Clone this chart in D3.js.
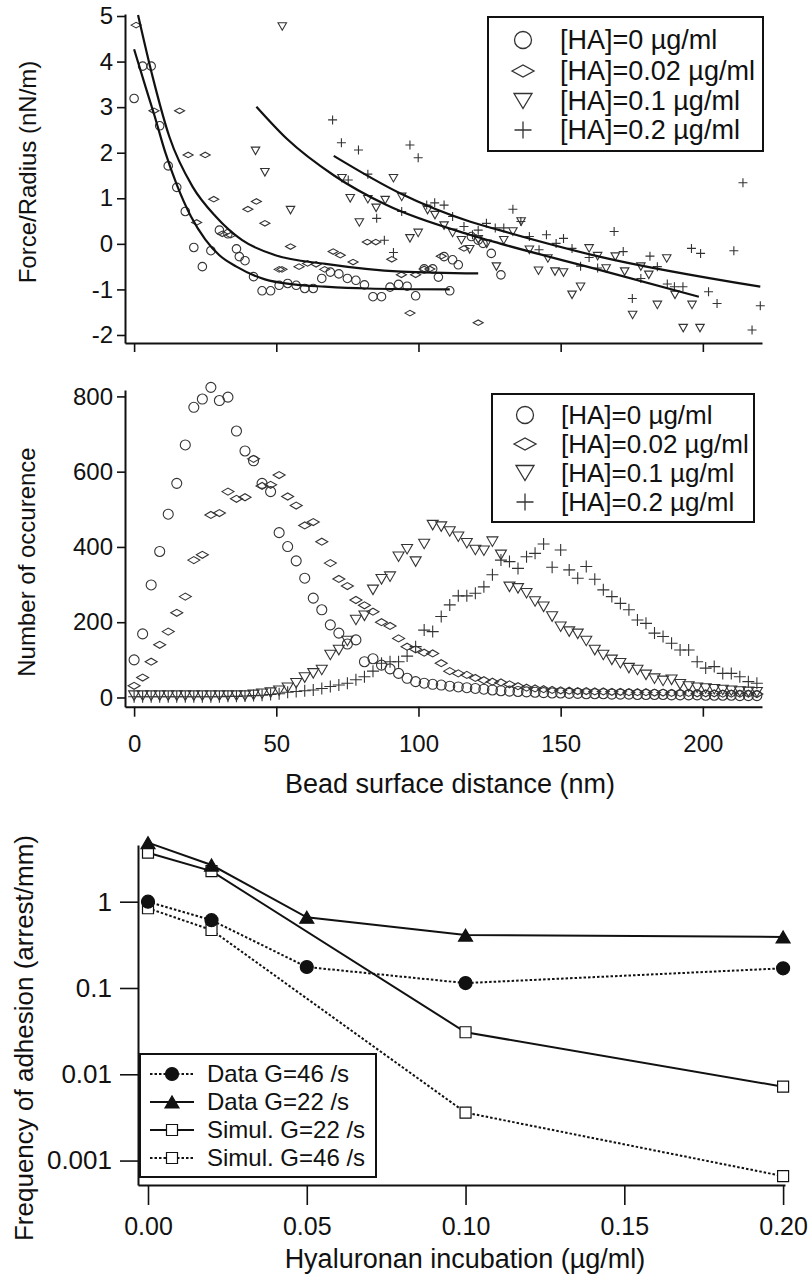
<!DOCTYPE html>
<html>
<head>
<meta charset="utf-8">
<script src="https://cdn.jsdelivr.net/npm/d3@7"></script>
<style>
  body { margin: 0; background: #fff; }
  text { font-family: "Liberation Sans", Arial, sans-serif; fill: #111; }
</style>
</head>
<body>
<svg id="chart" width="811" height="1282"></svg>
<script>
// ---------- data: top panel, force/radius vs distance ----------
const forceHA0 = [[0,3.19],[3,3.9],[6,3.9],[9,2.59],[12,1.71],[15,1.24],[18,0.71],[21,-0.08],[24,-0.5],[27,-0.15],[30,0.3],[33,0.22],[36,-0.11],[37,-0.28],[39,-0.37],[42,-0.72],[45,-1.03],[48,-1.03],[51,-0.91],[54,-0.87],[57,-0.91],[60,-0.98],[63,-0.98],[66,-0.76],[69,-0.62],[72,-0.66],[75,-0.76],[78,-0.8],[81,-0.9],[84,-1.16],[87,-1.16],[90,-0.95],[93,-0.89],[96,-0.93],[99,-1.14],[102,-0.55],[105,-0.55],[107,-0.73],[109,-0.28],[111,-1.03],[112,-0.35],[114,-0.46],[118.6,0.16],[121,0.08],[122.7,0.01],[125.6,-0.21],[129,-0.68]];
const forceHA002 = [[0.7,4.8],[7,2.92],[16,2.92],[19,1.95],[22,0.47],[25,1.95],[28,0.98],[31,0.22],[34,0.19],[40,0.76],[43,0.93],[46,0.45],[51,-0.56],[52,-0.56],[55,-0.06],[58,-0.5],[61,-0.43],[64,-0.45],[67,-0.56],[70,-0.17],[72.5,-0.25],[77,-0.4],[82,0.04],[85,0.04],[90.6,-0.34],[94,-0.68],[97,-1.52],[99,-0.68],[102,-0.55],[104,-0.55],[108,-0.27],[116,-0.1],[121,-1.73]];
const forceHA01 = [[42.7,2.04],[46,1.57],[52.1,4.77],[55,0.74],[73.1,1.44],[76,1.0],[79.2,0.47],[82.2,0.98],[85.1,0.79],[88.3,0.96],[91.2,1.44],[94.1,1.03],[97,0.12],[99.9,0.24],[103.2,0.74],[105.8,0.63],[109,0.4],[112,0.24],[115.1,0.08],[118,-0.12],[121,0.1],[124,0.0],[127.4,-0.5],[130,0.08],[133.2,0.27],[136.1,0.49],[139,-0.13],[142.2,-0.59],[145.5,-0.32],[148,-0.61],[151,-0.63],[154,-1.12],[157,-0.94],[160,-0.1],[163,-0.27],[166,-0.54],[169.2,-0.28],[172.5,-0.61],[175.3,-1.56],[178.2,-0.5],[181,-0.68],[184,-1.34],[187.3,-0.32],[190.2,-1.12],[193.1,-1.85],[196.2,-1.34],[199,-1.85]];
const forceHA02 = [[69.8,2.72],[72.9,2.22],[75.3,1.4],[78.9,2.06],[82.2,1.53],[85.3,0.56],[88,0.08],[91.2,-0.19],[94.1,0.71],[97,2.17],[99.9,1.89],[102.9,0.85],[105.7,0.9],[109,0.85],[112,0.6],[116,0.38],[119,0.2],[121,0.3],[123.9,0.45],[127,0.35],[130,0.35],[133.2,0.76],[136,0.49],[139,0.16],[142.4,-0.13],[145,0.2],[148.4,0.01],[151,0.12],[154,-0.1],[157,-0.49],[160,-0.3],[163,-0.53],[168.8,0.27],[172,-0.17],[175.2,-1.2],[178.2,-0.76],[181.4,-0.27],[184,-0.5],[187.5,-0.88],[190,-0.94],[193,-0.94],[196,-0.1],[199.2,-0.21],[202,-1.05],[205,-1.31],[210.9,-0.15],[214.1,1.34],[217.3,-1.89],[220.2,-1.36]];

// fitted curves
const fitHA0 = [[0,4.27],[4,3.45],[7,2.85],[11,2.0],[15,1.3],[20,0.6],[25,0.1],[30,-0.25],[36,-0.5],[46,-0.78],[56,-0.89],[67,-0.94],[82,-0.98],[111,-1.0]];
const fitHA002 = [[1.4,5.02],[6.5,3.67],[12.4,2.35],[20.6,1.25],[28.7,0.6],[38,0.08],[49.7,-0.25],[67.3,-0.44],[94.1,-0.61],[121,-0.65]];
const fitHA01 = [[43,3.01],[53.8,2.3],[70.3,1.5],[88.8,0.85],[118,0.2],[128.5,0.01],[163.6,-0.57],[198.6,-1.16]];
const fitHA02 = [[70.2,1.93],[93.5,1.11],[118,0.49],[128.5,0.3],[163.6,-0.28],[220.2,-0.94]];

// ---------- data: middle panel, histogram of distances ----------
const distNm = [0,3,6,9,12,15,18,21,24,27,30,33,36,39,42,45,48,51,54,57,60,63,66,69,72,75,78,81,84,87,90,93,96,99,102,105,108,111,114,117,120,123,126,129,132,135,138,141,144,147,150,153,156,159,162,165,168,171,174,177,180,183,186,189,192,195,198,201,204,207,210,213,216,219];
const countHA0 = [100,169,299,388,487,569,671,771,793,824,789,798,708,655,629,569,547,438,401,363,317,264,233,193,171,142,153,95,103,86,76,64,51,42,38,35,33,30,28,26,24,22,20,18,17,16,15,14,13,12,12,11,11,10,10,10,9,9,9,8,8,8,8,7,7,7,7,6,6,6,6,5,5,5];
const countHA002 = [31,53,95,140,175,225,268,365,379,485,490,547,528,532,634,562,565,591,534,510,457,466,414,357,315,296,259,245,228,200,190,157,135,128,119,117,91,70,64,60,52,46,42,40,35,30,26,24,22,20,19,18,17,17,16,16,15,15,14,14,14,13,13,12,12,12,11,11,11,10,10,10,10,9];
const countHA01 = [5,5,5,5,5,5,5,5,5,5,5,5,5,5,7,10,13,18,26,38,53,64,73,113,126,150,206,217,286,314,321,374,394,361,408,458,454,441,427,410,392,390,414,379,294,290,277,255,241,215,188,175,169,150,126,113,100,91,78,73,60,50,44,47,35,29,26,24,22,20,18,16,15,14];
const countHA02 = [2,2,2,2,2,2,2,2,2,2,2,3,3,4,5,6,8,10,14,16,18,20,24,29,33,38,47,55,70,91,95,95,110,135,179,175,215,246,270,270,277,294,326,365,361,343,374,383,408,346,392,339,317,348,314,286,268,250,233,206,197,171,162,144,126,126,95,78,82,64,64,55,42,38];

// ---------- data: bottom panel, adhesion frequency ----------
const haConc = [0, 0.02, 0.05, 0.10, 0.20];
const dataG46 = [1.0, 0.61, 0.175, 0.114, 0.169];
const dataG22 = [4.83, 2.66, 0.66, 0.41, 0.39];
const simulConc = [0, 0.02, 0.10, 0.20];
const simulG22 = [3.7, 2.26, 0.0307, 0.00718];
const simulG46 = [0.84, 0.47, 0.0036, 0.00066];

const haLabels = ["[HA]=0 µg/ml", "[HA]=0.02 µg/ml", "[HA]=0.1 µg/ml", "[HA]=0.2 µg/ml"];
const distTicks = [0, 50, 100, 150, 200];
const forceTicks = [-2, -1, 0, 1, 2, 3, 4, 5];
const countTicks = [0, 200, 400, 600, 800];
const concTicks = [0, 0.05, 0.10, 0.15, 0.20];
const freqTicks = [1, 0.1, 0.01, 0.001];
const freqTickLabels = ["1", "0.1", "0.01", "0.001"];

const svg = d3.select("#chart");
const ink = "#111";

function markerPath(shape, w, h) {
  const p = d3.path();
  if (shape === "circle") {
    p.moveTo(w / 2, 0);
    p.arc(0, 0, w / 2, 0, 2 * Math.PI);
  } else if (shape === "diamond") {
    p.moveTo(-w / 2, 0); p.lineTo(0, -h / 2); p.lineTo(w / 2, 0); p.lineTo(0, h / 2); p.closePath();
  } else if (shape === "triDown") {
    p.moveTo(-w / 2, -h / 2); p.lineTo(w / 2, -h / 2); p.lineTo(0, h / 2); p.closePath();
  } else if (shape === "triUp") {
    p.moveTo(-w / 2, h / 2); p.lineTo(w / 2, h / 2); p.lineTo(0, -h / 2); p.closePath();
  } else if (shape === "square") {
    p.rect(-w / 2, -h / 2, w, h);
  } else if (shape === "plus") {
    p.moveTo(-w / 2, 0); p.lineTo(w / 2, 0); p.moveTo(0, -h / 2); p.lineTo(0, h / 2);
  }
  return p.toString();
}

function styleAxis(g, fontSize) {
  g.select(".domain").attr("stroke", ink).attr("stroke-width", 2);
  g.selectAll(".tick line").attr("stroke", ink).attr("stroke-width", 1.6);
  g.selectAll(".tick text").attr("font-size", fontSize).attr("fill", ink)
    .style("font-family", '"Liberation Sans", Arial, sans-serif');
}

// plain hyphen for negatives, like the original figure
const intFmt = d => String(d);

// shared distance scale for top and middle panels
const x = d3.scaleLinear().domain([-3.2, 220.8]).range([125, 762]);

// ================= TOP PANEL =================
const yTop = d3.scaleLinear().domain([-2.176, 5.044]).range([343, 14]);
const topPanel = svg.append("g");

topPanel.append("g").attr("transform", "translate(0,343)")
  .call(d3.axisBottom(x).tickValues(distTicks).tickFormat("").tickSize(9).tickSizeOuter(0))
  .call(g => styleAxis(g, 24));
topPanel.append("g").attr("transform", "translate(125,0)")
  .call(d3.axisLeft(yTop).tickValues(forceTicks).tickFormat(intFmt).tickSize(8).tickSizeOuter(0).tickPadding(4))
  .call(g => styleAxis(g, 24));

const topShapes = [
  { data: forceHA0, shape: "circle", w: 8.5, h: 8.5 },
  { data: forceHA002, shape: "diamond", w: 10, h: 5.5 },
  { data: forceHA01, shape: "triDown", w: 8.5, h: 7.5 },
  { data: forceHA02, shape: "plus", w: 9, h: 9 }
];
topShapes.forEach(s => {
  topPanel.append("g").selectAll("path").data(s.data).enter().append("path")
    .attr("transform", d => `translate(${x(d[0])},${yTop(d[1])})`)
    .attr("d", markerPath(s.shape, s.w, s.h))
    .attr("fill", "none").attr("stroke", "#333").attr("stroke-width", 1.1);
});

const fitLine = d3.line().x(d => x(d[0])).y(d => yTop(d[1])).curve(d3.curveMonotoneX);
[fitHA0, fitHA002, fitHA01, fitHA02].forEach(c => {
  topPanel.append("path").attr("d", fitLine(c)).attr("fill", "none")
    .attr("stroke", ink).attr("stroke-width", 2.2);
});

topPanel.append("text").attr("transform", "translate(28,172) rotate(-90)")
  .attr("text-anchor", "middle").attr("dy", "0.35em").attr("font-size", 24)
  .text("Force/Radius (nN/m)");

function drawHALegend(g, bx, by, bw, bh, rowYs, mx, tx, fontSize) {
  g.append("rect").attr("x", bx).attr("y", by).attr("width", bw).attr("height", bh)
    .attr("fill", "#fff").attr("stroke", ink).attr("stroke-width", 2);
  const legShapes = [
    { shape: "circle", w: 17, h: 17 },
    { shape: "diamond", w: 22, h: 12 },
    { shape: "triDown", w: 18, h: 15 },
    { shape: "plus", w: 17, h: 17 }
  ];
  haLabels.forEach((lab, i) => {
    g.append("path").attr("transform", `translate(${mx},${rowYs[i]})`)
      .attr("d", markerPath(legShapes[i].shape, legShapes[i].w, legShapes[i].h))
      .attr("fill", "none").attr("stroke", "#333").attr("stroke-width", 1.3);
    g.append("text").attr("x", tx).attr("y", rowYs[i]).attr("dy", "0.35em")
      .attr("font-size", fontSize).text(lab);
  });
}
drawHALegend(topPanel, 488, 17, 275, 134, [40, 71, 101, 130], 523, 560, 27);

// ================= MIDDLE PANEL =================
const yMid = d3.scaleLinear().domain([-24.5, 817]).range([706.7, 390]);
const midPanel = svg.append("g");

midPanel.append("g").attr("transform", "translate(0,706.7)")
  .call(d3.axisBottom(x).tickValues(distTicks).tickFormat(intFmt).tickSize(10).tickSizeOuter(0).tickPadding(18))
  .call(g => styleAxis(g, 24));
midPanel.append("g").attr("transform", "translate(125,0)")
  .call(d3.axisLeft(yMid).tickValues(countTicks).tickFormat(intFmt).tickSize(8).tickSizeOuter(0).tickPadding(4))
  .call(g => styleAxis(g, 24));

const midSeries = [
  { vals: countHA0, shape: "circle", w: 10, h: 10 },
  { vals: countHA002, shape: "diamond", w: 12, h: 7 },
  { vals: countHA01, shape: "triDown", w: 11, h: 9.5 },
  { vals: countHA02, shape: "plus", w: 12, h: 12 }
];
midSeries.forEach(s => {
  midPanel.append("g").selectAll("path").data(s.vals).enter().append("path")
    .attr("transform", (d, i) => `translate(${x(distNm[i])},${yMid(d)})`)
    .attr("d", markerPath(s.shape, s.w, s.h))
    .attr("fill", "none").attr("stroke", "#333").attr("stroke-width", 1.1);
});

midPanel.append("text").attr("transform", "translate(27,562) rotate(-90)")
  .attr("text-anchor", "middle").attr("dy", "0.35em").attr("font-size", 24)
  .text("Number of occurence");
midPanel.append("text").attr("x", 450).attr("y", 793).attr("text-anchor", "middle")
  .attr("font-size", 27).text("Bead surface distance (nm)");

drawHALegend(midPanel, 492, 394, 262, 128, [415, 444, 473, 502], 525, 561, 26);

// ================= BOTTOM PANEL =================
const xb = d3.scaleLinear().domain([-0.00315, 0.2006]).range([138, 785]);
const yb = d3.scaleLog().domain([5.21e-4, 4.54]).range([1185, 845]);
const botPanel = svg.append("g");

botPanel.append("g").attr("transform", "translate(0,1185)")
  .call(d3.axisBottom(xb).tickValues(concTicks).tickFormat(d3.format(".2f")).tickSize(20).tickSizeOuter(0).tickPadding(12))
  .call(g => styleAxis(g, 25));
botPanel.append("g").attr("transform", "translate(138,0)")
  .call(d3.axisLeft(yb).tickValues(freqTicks).tickFormat((d, i) => freqTickLabels[i]).tickSize(18).tickSizeOuter(0).tickPadding(8))
  .call(g => styleAxis(g, 26));

const bottomSeries = [
  { xs: simulConc, ys: simulG46, dash: "2.5,2", shape: "square", fill: "#fff", w: 11, h: 11, label: "Simul. G=46 /s" },
  { xs: simulConc, ys: simulG22, dash: null, shape: "square", fill: "#fff", w: 11, h: 11, label: "Simul. G=22 /s" },
  { xs: haConc, ys: dataG46, dash: "2.5,2", shape: "circle", fill: ink, w: 13, h: 13, label: "Data G=46 /s" },
  { xs: haConc, ys: dataG22, dash: null, shape: "triUp", fill: ink, w: 14, h: 12, label: "Data G=22 /s" }
];
const bLine = d3.line();
bottomSeries.forEach(s => {
  const pts = s.xs.map((c, i) => [xb(c), yb(s.ys[i])]);
  botPanel.append("path").attr("d", bLine(pts)).attr("fill", "none")
    .attr("stroke", ink).attr("stroke-width", 2)
    .attr("stroke-dasharray", s.dash);
});
bottomSeries.forEach(s => {
  botPanel.append("g").selectAll("path").data(s.ys).enter().append("path")
    .attr("transform", (d, i) => `translate(${xb(s.xs[i])},${yb(d)})`)
    .attr("d", markerPath(s.shape, s.w, s.h))
    .attr("fill", s.fill).attr("stroke", ink).attr("stroke-width", 1.2);
});

botPanel.append("text").attr("transform", "translate(24,1038) rotate(-90)")
  .attr("text-anchor", "middle").attr("dy", "0.35em").attr("font-size", 26)
  .text("Frequency of adhesion (arrest/mm)");
botPanel.append("text").attr("x", 465).attr("y", 1268).attr("text-anchor", "middle")
  .attr("font-size", 27).text("Hyaluronan incubation (µg/ml)");

// bottom legend
const legOrder = [2, 3, 1, 0];
const legRows = [1074, 1102, 1130, 1158];
botPanel.append("rect").attr("x", 140).attr("y", 1054).attr("width", 236).attr("height", 123)
  .attr("fill", "#fff").attr("stroke", ink).attr("stroke-width", 2);
legOrder.forEach((si, r) => {
  const s = bottomSeries[si];
  botPanel.append("line").attr("x1", 150).attr("x2", 194).attr("y1", legRows[r]).attr("y2", legRows[r])
    .attr("stroke", ink).attr("stroke-width", 2).attr("stroke-dasharray", s.dash);
  botPanel.append("path").attr("transform", `translate(172,${legRows[r]})`)
    .attr("d", markerPath(s.shape, s.w, s.h))
    .attr("fill", s.fill).attr("stroke", ink).attr("stroke-width", 1.2);
  botPanel.append("text").attr("x", 207).attr("y", legRows[r]).attr("dy", "0.35em")
    .attr("font-size", 24).text(s.label);
});
</script>
</body>
</html>
